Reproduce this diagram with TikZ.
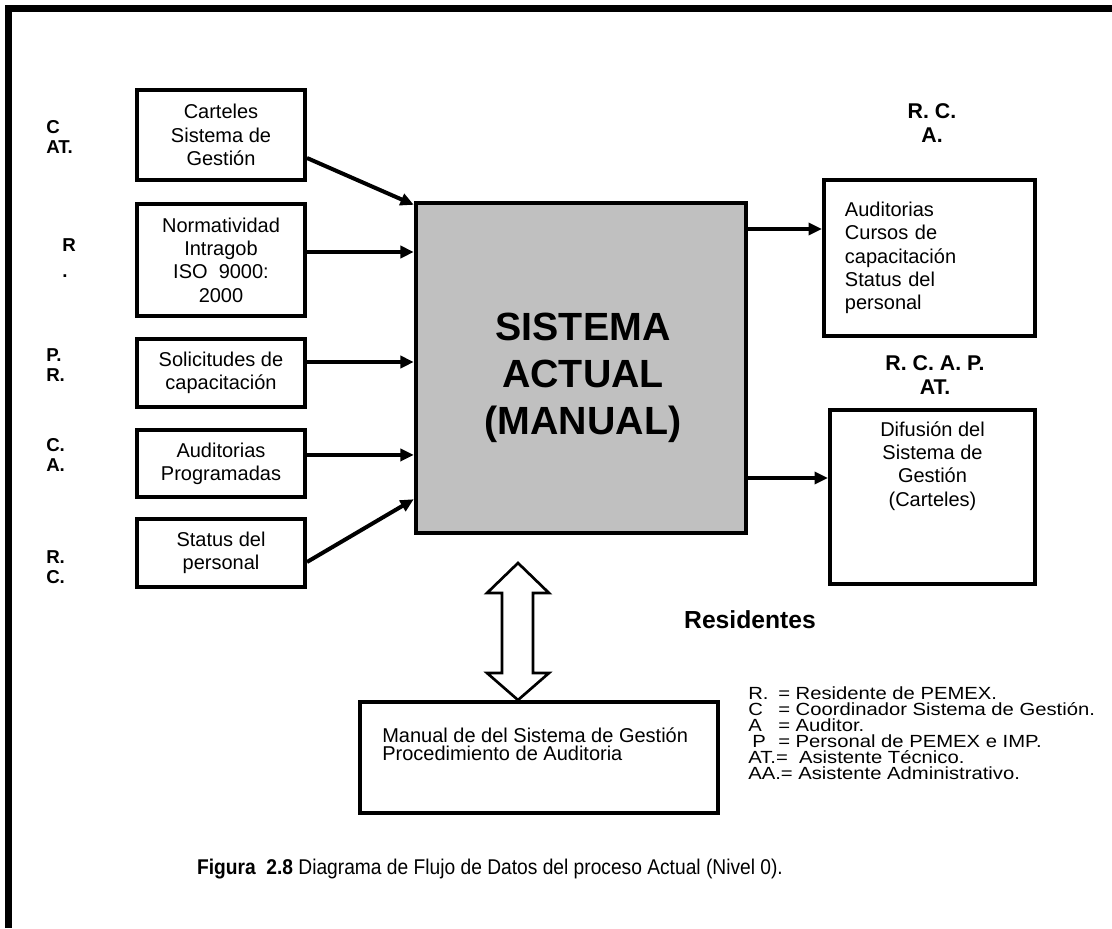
\documentclass[tikz,border=0pt]{standalone}
\usepackage{fontspec}
\setmainfont{Liberation Sans}
\newfontfamily\legendfont[FakeStretch=1.15]{Liberation Sans}
\newfontfamily\captionfont[FakeStretch=0.9]{Liberation Sans}
\usetikzlibrary{arrows.meta,calc}

\begin{document}
\begin{tikzpicture}[x=0.75pt,y=-0.75pt,
  box/.style={draw, line width=3.3pt, inner sep=0pt, align=center,
              font=\fontsize{15}{17.5}\selectfont},
  txt/.style={inner sep=0pt, font=\fontsize{15}{17.5}\selectfont},
  flow/.style={line width=3pt, -{Triangle[length=10pt,width=9pt]}},
  tag/.style={inner sep=0pt, anchor=west, align=left,
              font=\bfseries\fontsize{14}{15}\selectfont},
  rtag/.style={inner sep=0pt, align=center,
               font=\bfseries\fontsize{16}{18}\selectfont},
]
\useasboundingbox (0,0) rectangle (1112,928);

% page frame, open on the right and at the bottom
\draw[line width=5.25pt] (8.5,928) -- (8.5,8.5) -- (1112,8.5);

% input sources
\node[box, minimum width=125.7pt, minimum height=67.2pt] (c1) at (221,135)
  {Carteles\\Sistema de\\Gestión};
\node[box, minimum width=125.7pt, minimum height=83.7pt] (c2) at (221,260)
  {Normatividad\\Intragob\\ISO\ \ 9000:\\2000};
\node[box, minimum width=125.7pt, minimum height=50.7pt] (c3) at (221,373)
  {Solicitudes de\\capacitación};
\node[box, minimum width=125.7pt, minimum height=50pt] (c4) at (221,463.5)
  {Auditorias\\Programadas};
\node[box, minimum width=125.7pt, minimum height=50.7pt] (c5) at (221,553)
  {Status del\\personal};

% responsible people for each source
\node[tag] (t1) at (46,137) {C\\AT.};
\node[tag] (t2) at (62,258) {R\\[4pt].};
\node[tag] (t3) at (46,365) {P.\\R.};
\node[tag] (t4) at (46,455) {C.\\A.};
\node[tag] (t5) at (46,567) {R.\\C.};

% central process
\node[draw, line width=3.3pt, fill={rgb,255:red,192;green,192;blue,192},
      minimum width=247.5pt, minimum height=247.5pt] (sys) at (581,368) {};
\node[inner sep=0pt, align=center,
      font=\bfseries\fontsize{29.5}{35}\selectfont] (systxt) at (583,378)
  {SISTEMA\\ACTUAL\\(MANUAL)};

% outputs
\node[box, minimum width=158pt, minimum height=116.7pt, text width=126.8pt,
      inner xsep=15.6pt, align=left] (rb1) at (929.5,258)
  {Auditorias\\Cursos de\\capacitación\\Status del\\personal};
\node[box, minimum width=153.5pt, minimum height=130.2pt] (rb2) at (932.5,497) {};
\node[txt, align=center, anchor=north] (rb2t) at (932.5,421)
  {Difusión del\\Sistema de\\Gestión\\(Carteles)};

\node[rtag] (r1) at (932,123.5) {R. C.\\A.};
\node[rtag] (r2) at (935,375) {R. C. A. P.\\AT.};

% data flows
\draw[flow] ([yshift=-17.25pt]c1.east) -- ([yshift=-3pt]sys.north west);
\draw[flow] ([yshift=6pt]c2.east) -- ([yshift=6pt]c2.east -| sys.west);
\draw[flow] ([yshift=8.25pt]c3.east) -- ([yshift=8.25pt]c3.east -| sys.west);
\draw[flow] ([yshift=6.4pt]c4.east) -- ([yshift=6.4pt]c4.east -| sys.west);
\draw[flow] ([yshift=-6.75pt]c5.east) -- ([yshift=27pt]sys.south west);
\draw[flow] ([yshift=104.25pt]sys.east) -- ([yshift=104.25pt]sys.east -| rb1.west);
\draw[flow] ([yshift=-82.5pt]sys.east) -- ([yshift=-82.5pt]sys.east -| rb2.west);

% reference documents store
\node[box, minimum width=268.2pt, minimum height=83pt] (man) at (539,757.5) {};
\node[txt, align=left, anchor=north west,
      font=\fontsize{15}{13.5}\selectfont] (mant) at (382,727)
  {Manual de del Sistema de Gestión\\Procedimiento de Auditoria};

% two-way hollow arrow between process and documents
\draw[line width=2pt, line join=miter, fill=white]
  (518,563) -- (549,593) -- (533,593) -- (533,673) -- (549,673) -- (518,700)
  -- (487,673) -- (502,673) -- (502,593) -- (487,593) -- cycle;

\node[inner sep=0pt, font=\bfseries\fontsize{18.5}{20}\selectfont] (res) at (750,620)
  {Residentes};

% key of abbreviations
\node[inner sep=0pt, anchor=west, align=left,
      font=\legendfont\fontsize{13.2}{12}\selectfont] (key) at (748,733)
  {\makebox[22.5pt][l]{R.}= Residente de PEMEX.\\
   \makebox[22.5pt][l]{C}= Coordinador Sistema de Gestión.\\
   \makebox[22.5pt][l]{A}= Auditor.\\
   \makebox[22.5pt][l]{\hspace{3pt}P}= Personal de PEMEX e IMP.\\
   AT.=\ \ Asistente Técnico.\\
   AA.= Asistente Administrativo.};

% figure caption
\node[inner sep=0pt, font=\captionfont\fontsize{16}{18}\selectfont] (cap) at (490,869)
  {\textbf{Figura\ \ 2.8} Diagrama de Flujo de Datos del proceso Actual (Nivel 0).};
\end{tikzpicture}
\end{document}
